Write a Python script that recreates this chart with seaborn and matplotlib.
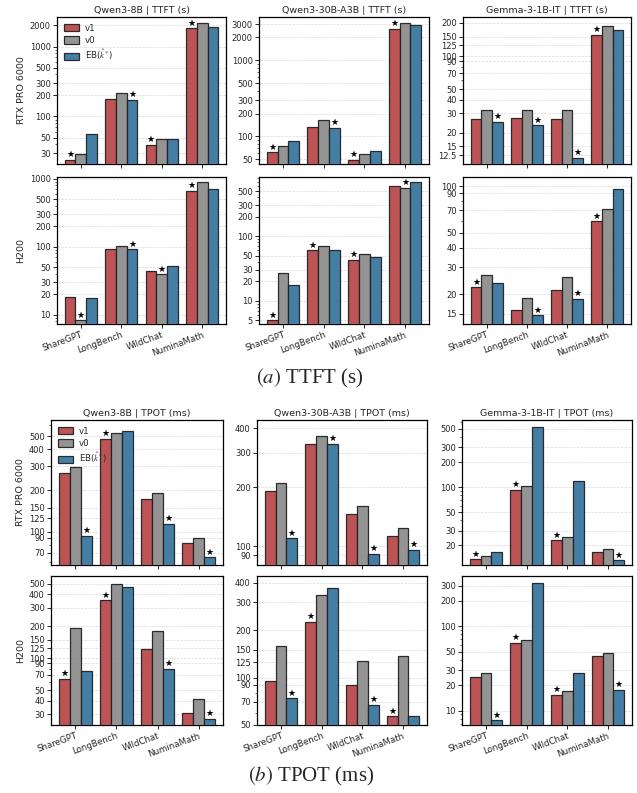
import numpy as np
import pandas as pd
import matplotlib
matplotlib.use("Agg")
import matplotlib.pyplot as plt
from matplotlib.ticker import FixedLocator, FixedFormatter, NullFormatter, LogLocator
import seaborn as sns

datasets = ["ShareGPT", "LongBench", "WildChat", "NuminaMath"]
methods = ["v1", "v0", r"EB($\hat{k}^*$)"]
models = ["Qwen3-8B", "Qwen3-30B-A3B", "Gemma-3-1B-IT"]
gpus = ["RTX PRO 6000", "H200"]
colors = ["#b94a4c", "#8e8e8e", "#3a77a0"]

# Each array: rows are v1, v0, EB; columns follow `datasets`.
# TTFT in seconds
ttft_rtx_qwen3_8b = [[23.8, 179, 39.4, 1828], [28.7, 215, 47.4, 2203], [55.3, 173, 47.4, 1888]]
ttft_rtx_qwen3_30b = [[62.0, 135, 49.3, 2610], [75.4, 162, 59.2, 3097], [85.9, 130, 64.1, 2943]]
ttft_rtx_gemma = [[26.8, 27.1, 26.8, 157], [32.1, 32.5, 32.1, 189], [25.1, 23.4, 11.8, 171]]
ttft_h200_qwen3_8b = [[18.4, 92.4, 43.4, 666], [8.35, 102, 39.6, 883], [18.0, 91.8, 53.1, 705]]
ttft_h200_qwen3_30b = [[4.93, 60.5, 42.5, 589], [26.7, 69.2, 52.6, 561], [17.6, 60.9, 46.7, 687]]
ttft_h200_gemma = [[22.2, 15.9, 21.3, 59.3], [26.8, 19.0, 25.8, 71.3], [23.8, 14.6, 18.7, 95.6]]

# TPOT in milliseconds
tpot_rtx_qwen3_8b = [[270, 479, 174, 82.0], [297, 529, 191, 90.1], [93.6, 546, 113.5, 64.8]]
tpot_rtx_qwen3_30b = [[191, 334, 146, 113], [211, 367, 161, 124], [110, 332, 91.2, 95.9]]
tpot_rtx_gemma = [[13.6, 93.0, 22.9, 16.7], [15.0, 102, 25.3, 18.3], [16.7, 533, 118, 13.2]]
tpot_h200_qwen3_8b = [[64.2, 351, 122.5, 31.0], [194, 494, 180, 41.2], [76.4, 467, 79.3, 26.9]]
tpot_h200_qwen3_30b = [[95.7, 226, 90.2, 56.8], [159, 334, 127, 137], [73.7, 368, 67.1, 57.3]]
tpot_h200_gemma = [[25.2, 63.3, 15.5, 44.3], [27.6, 69.3, 17.0, 48.6], [7.67, 328, 28.1, 17.6]]

# Labelled y ticks for each panel
ticks_ttft_rtx_qwen3_8b = [30, 50, 100, 200, 300, 500, 1000, 2000]
ticks_ttft_rtx_qwen3_30b = [50, 100, 200, 300, 500, 1000, 2000, 3000]
ticks_ttft_rtx_gemma = [12.5, 15, 20, 30, 40, 50, 70, 90, 100, 125, 150, 200]
ticks_ttft_h200_qwen3_8b = [10, 20, 30, 50, 100, 200, 300, 500, 1000]
ticks_ttft_h200_qwen3_30b = [5, 10, 20, 30, 50, 100, 200, 300, 500]
ticks_ttft_h200_gemma = [15, 20, 30, 40, 50, 70, 90, 100]
ticks_tpot_rtx_qwen3_8b = [70, 90, 100, 125, 150, 200, 300, 400, 500]
ticks_tpot_rtx_qwen3_30b = [80, 90, 100, 200, 300, 400]
ticks_tpot_rtx_gemma = [20, 30, 50, 100, 200, 300, 500]
ticks_tpot_h200_qwen3_8b = [30, 40, 50, 70, 90, 100, 125, 150, 200, 300, 400, 500]
ticks_tpot_h200_qwen3_30b = [50, 70, 90, 100, 125, 150, 200, 300, 400]
ticks_tpot_h200_gemma = [10, 20, 30, 50, 100, 200, 300]

sns.set_theme(style="ticks")
plt.rcParams["font.family"] = ["DejaVu Sans"]
plt.rcParams["mathtext.fontset"] = "stix"

W, H = 637, 793
fig = plt.figure(figsize=(W / 100, H / 100), dpi=100)


def add_axes(l, t, r, b):
    return fig.add_axes([l / W, 1 - b / H, (r - l) / W, (b - t) / H])


def fmt(v):
    return f"{v:g}"


def panel(ax, values, ticks, title=None, ylabel=None, xlabels=False, legend=False):
    df = pd.DataFrame({
        "dataset": np.tile(datasets, len(methods)),
        "method": np.repeat(methods, len(datasets)),
        "value": np.ravel(values),
    })
    sns.barplot(data=df, x="dataset", y="value", hue="method",
                order=datasets, hue_order=methods, palette=colors,
                saturation=1, width=0.8, errorbar=None,
                edgecolor="#222222", linewidth=0.9, alpha=0.95,
                legend=legend, ax=ax, zorder=3)
    ax.set_yscale("log")
    vals = np.asarray(values, dtype=float)
    ax.set_ylim(vals.min() * 0.88, vals.max() * 1.2)
    ax.set_xlim(-0.59, 3.59)
    ax.yaxis.set_major_locator(FixedLocator(ticks))
    ax.yaxis.set_major_formatter(FixedFormatter([fmt(t) for t in ticks]))
    ax.yaxis.set_minor_locator(LogLocator(base=10, subs=np.arange(2, 10)))
    ax.yaxis.set_minor_formatter(NullFormatter())
    ax.yaxis.grid(True, which="major", linestyle="--", linewidth=0.5, color="#d9d9d9", zorder=0)
    ax.set_axisbelow(True)
    ax.tick_params(axis="both", which="major", labelsize=6, length=3, width=0.7, pad=1.5)
    ax.tick_params(axis="y", which="minor", length=1.5, width=0.5)
    for s in ax.spines.values():
        s.set_linewidth(0.9)
        s.set_color("black")
    ax.set_xticks(range(len(datasets)))
    if xlabels:
        ax.set_xticklabels(datasets, rotation=20, ha="right", rotation_mode="anchor", fontsize=6.2)
    else:
        ax.set_xticklabels([])
    ax.set_xlabel("")
    ax.set_ylabel(ylabel if ylabel else "", fontsize=6.8, labelpad=3)
    if title:
        ax.set_title(title, fontsize=6.8, pad=3)

    # star above the lowest bar in each group
    for i in range(len(datasets)):
        m = int(np.argmin(vals[:, i]))
        bar = ax.containers[m][i]
        x = bar.get_x() + bar.get_width() / 2
        ax.annotate("★", xy=(x, bar.get_height()), xytext=(0, 0.5),
                    textcoords="offset points", ha="center", va="bottom",
                    fontsize=6.5, color="black", zorder=5)

    if legend:
        handles, labels = ax.get_legend_handles_labels()
        ax.legend(handles, labels, loc="upper left", frameon=False, fontsize=6.2,
                  handlelength=1.8, handleheight=0.9, labelspacing=0.35,
                  borderaxespad=0.4, handletextpad=0.6)


ttft_sets = [
    [ttft_rtx_qwen3_8b, ttft_rtx_qwen3_30b, ttft_rtx_gemma],
    [ttft_h200_qwen3_8b, ttft_h200_qwen3_30b, ttft_h200_gemma],
]
ttft_ticks = [
    [ticks_ttft_rtx_qwen3_8b, ticks_ttft_rtx_qwen3_30b, ticks_ttft_rtx_gemma],
    [ticks_ttft_h200_qwen3_8b, ticks_ttft_h200_qwen3_30b, ticks_ttft_h200_gemma],
]
tpot_sets = [
    [tpot_rtx_qwen3_8b, tpot_rtx_qwen3_30b, tpot_rtx_gemma],
    [tpot_h200_qwen3_8b, tpot_h200_qwen3_30b, tpot_h200_gemma],
]
tpot_ticks = [
    [ticks_tpot_rtx_qwen3_8b, ticks_tpot_rtx_qwen3_30b, ticks_tpot_rtx_gemma],
    [ticks_tpot_h200_qwen3_8b, ticks_tpot_h200_qwen3_30b, ticks_tpot_h200_gemma],
]

# pixel boxes (left, right) per column and (top, bottom) per row
ttft_cols = [(57, 226), (259, 429), (463, 631)]
ttft_rows = [(17, 164), (177, 324)]
tpot_cols = [(51, 223), (257, 427), (462, 632)]
tpot_rows = [(420, 565), (576, 725)]

for sets, tks, cols, rows, metric in [
    (ttft_sets, ttft_ticks, ttft_cols, ttft_rows, "TTFT (s)"),
    (tpot_sets, tpot_ticks, tpot_cols, tpot_rows, "TPOT (ms)"),
]:
    for r, (t, b) in enumerate(rows):
        for c, (l, rr) in enumerate(cols):
            ax = add_axes(l, t, rr, b)
            panel(ax, sets[r][c], tks[r][c],
                  title=f"{models[c]} | {metric}" if r == 0 else None,
                  ylabel=gpus[r] if c == 0 else None,
                  xlabels=(r == 1),
                  legend=(r == 0 and c == 0))

fig.text(310 / W, 1 - 378 / H, r"$\mathit{(a)}$ TTFT (s)", ha="center", va="center",
         fontsize=15, family="Liberation Serif")
fig.text(311 / W, 1 - 776 / H, r"$\mathit{(b)}$ TPOT (ms)", ha="center", va="center",
         fontsize=15, family="Liberation Serif")

fig.savefig("out.png", dpi=100, facecolor="white")
